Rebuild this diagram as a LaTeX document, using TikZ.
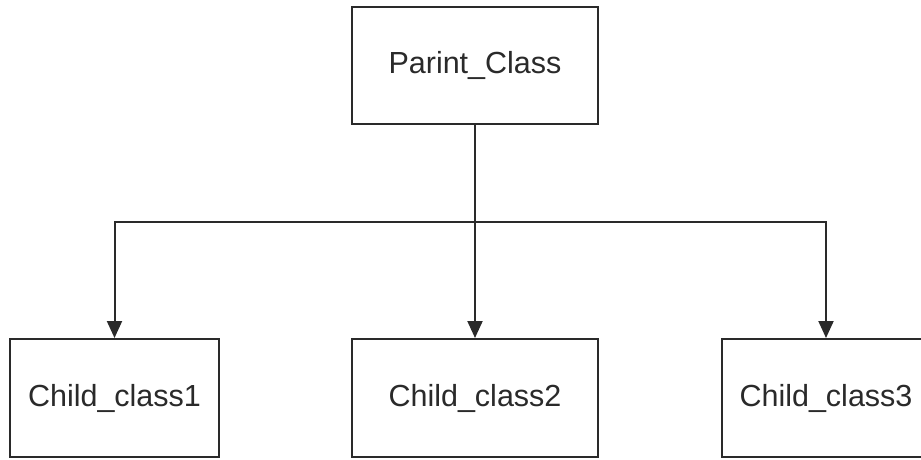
\documentclass[tikz,border=0pt]{standalone}
\usepackage{fontspec}
\setmainfont{Liberation Sans}
\usetikzlibrary{arrows.meta}
\definecolor{ln}{HTML}{2A2A2A}
\begin{document}
\begin{tikzpicture}[x=1pt,y=-1pt,
  classbox/.style={draw=ln,line width=2pt,fill=white,inner sep=0pt,text=ln,
    font=\fontsize{30.5}{36}\selectfont},
  conn/.style={draw=ln,line width=2pt},
  arr/.style={conn,-{Triangle[length=17pt,width=15pt]}}]
\useasboundingbox (0,0) rectangle (921,459);
\clip (0,0) rectangle (921,459);
\node[classbox,minimum width=246pt,minimum height=117pt] (p) at (475,65.5) {Parint\_Class};
\node[classbox,minimum width=209pt,minimum height=118pt] (c1) at (114.5,398) {Child\_class1};
\node[classbox,minimum width=246pt,minimum height=118pt] (c2) at (475,398) {Child\_class2};
\node[classbox,minimum width=209pt,minimum height=118pt] (c3) at (826,398) {Child\_class3};
\coordinate (j) at (475,222);
\draw[conn] (p.south) -- (j);
\draw[arr] (j) -- (c2.north);
\draw[arr] (j) -| (c1.north);
\draw[arr] (j) -| (c3.north);
\end{tikzpicture}
\end{document}
